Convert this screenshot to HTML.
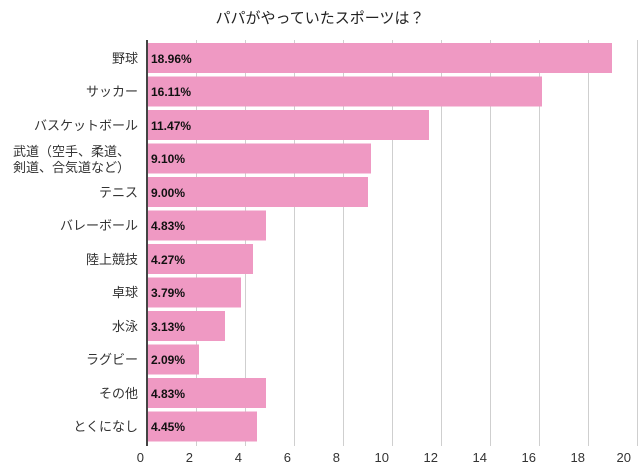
<!DOCTYPE html>
<html><head><meta charset="utf-8"><style>
body{margin:0;background:#fff;}
svg text{font-family:"Liberation Sans","Noto Sans CJK JP",sans-serif;}
</style></head><body>
<svg width="640" height="469" xmlns="http://www.w3.org/2000/svg">
<text x="320" y="23" font-size="15" text-anchor="middle" fill="#222">パパがやっていたスポーツは？</text>
<g stroke="#cfcfcf" stroke-width="1">
<line x1="196.5" y1="40" x2="196.5" y2="446"/><line x1="245.5" y1="40" x2="245.5" y2="446"/>
<line x1="294.5" y1="40" x2="294.5" y2="446"/><line x1="343.5" y1="40" x2="343.5" y2="446"/>
<line x1="392.5" y1="40" x2="392.5" y2="446"/><line x1="441.5" y1="40" x2="441.5" y2="446"/>
<line x1="490.5" y1="40" x2="490.5" y2="446"/><line x1="539.5" y1="40" x2="539.5" y2="446"/>
<line x1="588.5" y1="40" x2="588.5" y2="446"/><line x1="637.5" y1="40" x2="637.5" y2="446"/>
</g>
<g fill="#ef99c3">
<rect x="148" y="43" width="464" height="30"/>
<rect x="148" y="76.5" width="394" height="30"/>
<rect x="148" y="110" width="281" height="30"/>
<rect x="148" y="143.5" width="223" height="30"/>
<rect x="148" y="177" width="220" height="30"/>
<rect x="148" y="210.5" width="118" height="30"/>
<rect x="148" y="244" width="105" height="30"/>
<rect x="148" y="277.5" width="93" height="30"/>
<rect x="148" y="311" width="77" height="30"/>
<rect x="148" y="344.5" width="51" height="30"/>
<rect x="148" y="378" width="118" height="30"/>
<rect x="148" y="411.5" width="109" height="30"/>
</g>
<line x1="147" y1="40" x2="147" y2="446" stroke="#444" stroke-width="2"/>
<g font-size="12" fill="#111" font-weight="bold">
<text x="151" y="63">18.96%</text><text x="151" y="96">16.11%</text>
<text x="151" y="130">11.47%</text><text x="151" y="163">9.10%</text>
<text x="151" y="197">9.00%</text><text x="151" y="230">4.83%</text>
<text x="151" y="264">4.27%</text><text x="151" y="297">3.79%</text>
<text x="151" y="331">3.13%</text><text x="151" y="364">2.09%</text>
<text x="151" y="398">4.83%</text><text x="151" y="431">4.45%</text>
</g>
<g font-size="13" fill="#333" text-anchor="end">
<text x="138" y="63">野球</text><text x="138" y="96">サッカー</text>
<text x="138" y="130">バスケットボール</text>
<text x="130" y="156">武道（空手、柔道、</text><text x="130" y="172">剣道、合気道など）</text>
<text x="138" y="197">テニス</text><text x="138" y="230">バレーボール</text>
<text x="138" y="264">陸上競技</text><text x="138" y="297">卓球</text>
<text x="138" y="331">水泳</text><text x="138" y="364">ラグビー</text>
<text x="138" y="398">その他</text><text x="138" y="431">とくになし</text>
</g>
<g font-size="13" fill="#333" text-anchor="end">
<text x="144" y="462">0</text><text x="193" y="462">2</text><text x="242" y="462">4</text>
<text x="291" y="462">6</text><text x="340" y="462">8</text><text x="389" y="462">10</text>
<text x="438" y="462">12</text><text x="487" y="462">14</text><text x="536" y="462">16</text>
<text x="585" y="462">18</text><text x="631" y="462">20</text>
</g>
</svg>
</body></html>
